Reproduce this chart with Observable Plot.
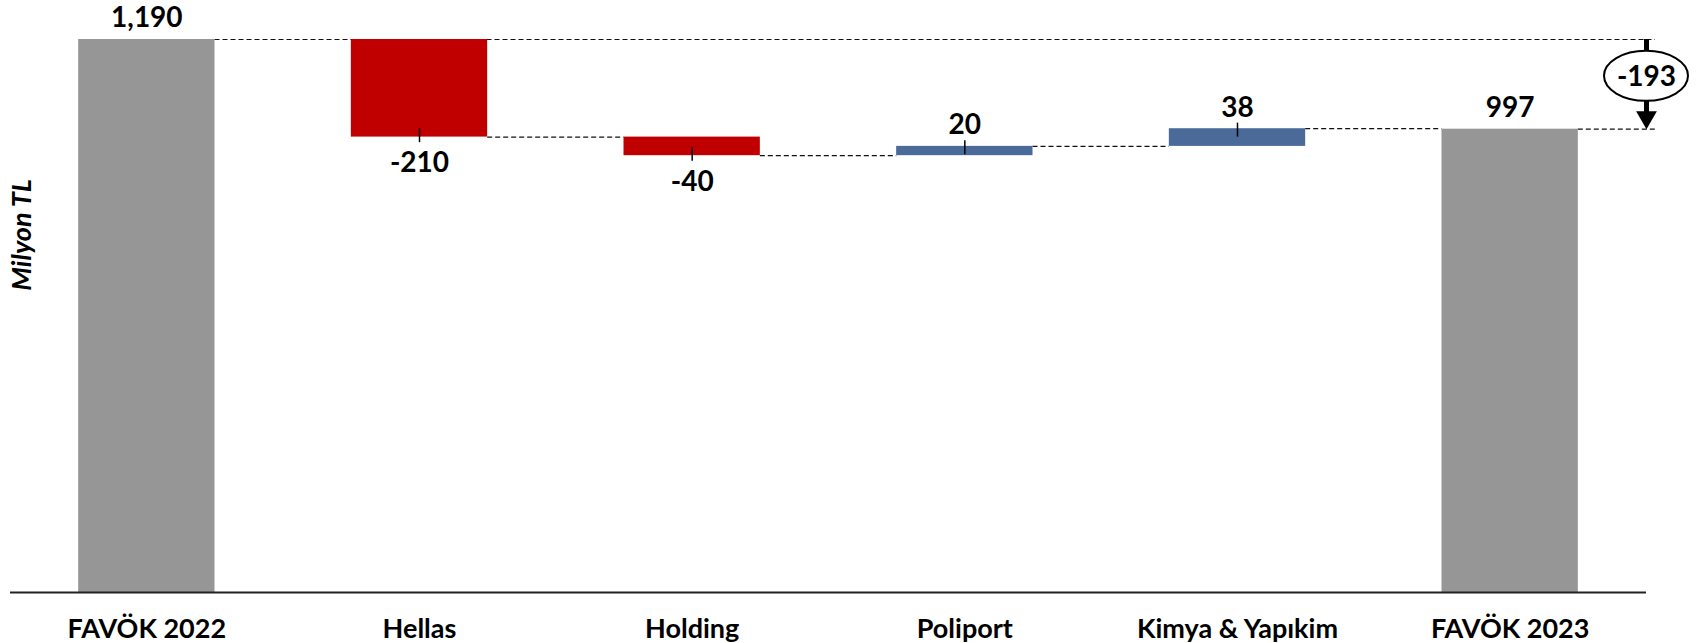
<!DOCTYPE html>
<html><head><meta charset="utf-8">
<script src="https://cdn.jsdelivr.net/npm/d3@7"></script>
<script src="https://cdn.jsdelivr.net/npm/@observablehq/plot@0.6"></script>
<style>body{margin:0;background:#fff}</style>
</head><body><div id="chart"></div>
<script>
const categories = ["FAVÖK 2022", "Hellas", "Holding", "Poliport", "Kimya & Yapıkim", "FAVÖK 2023"];
const values = [1190, -210, -40, 20, 38, 997];
const kinds = ["total", "delta", "delta", "delta", "delta", "total"];
const valueLabels = ["1,190", "-210", "-40", "20", "38", "997"];
const changeLabel = "-193";
const yAxisLabel = "Milyon TL";
const colors = {total: "#969696", down: "#C00000", up: "#4A6A9A"};

const half = 0.25;
let level = 0;
const bars = categories.map((c, i) => {
  const v = values[i];
  let y1, y2;
  if (kinds[i] === "total") { y1 = 0; y2 = v; }
  else { y1 = level; y2 = level + v; }
  level = y2;
  const kind = kinds[i] === "total" ? "total" : (v < 0 ? "down" : "up");
  return {i, c, v, y1, y2, kind, label: valueLabels[i]};
});
const n = bars.length;
const endX = n - 0.5;
const first = bars[0], last = bars[n - 1];

// connectors between consecutive bars
const connectors = [];
for (let i = 1; i < n - 1; i++) connectors.push({x1: i + half, x2: i + 1 - half, y: bars[i].y2});
// reference lines to the change annotation
const refLines = [
  {x1: first.i + half, x2: endX, y: first.y2},
  {x1: last.i + half, x2: endX, y: last.y2}
];
const deltas = bars.filter(d => d.kind !== "total");
const upLabels = bars.filter(d => d.kind !== "down");
const downLabels = bars.filter(d => d.kind === "down");
const mid = (first.y2 + last.y2) / 2;

const font = "Lato, 'Open Sans', sans-serif";

const chart = Plot.plot({
  width: 1696,
  height: 643,
  marginLeft: 10,
  marginRight: 50,
  marginTop: 39,
  marginBottom: 51,
  style: {fontFamily: font, fontWeight: "bold", color: "black", background: "white"},
  x: {domain: [-0.5, n - 0.5]},
  y: {domain: [0, first.y2], axis: null},
  marks: [
    Plot.ruleY(connectors, {x1: "x1", x2: "x2", y: "y", stroke: "#111", strokeWidth: 1.2, strokeDasharray: "5,3"}),
    Plot.ruleY(refLines, {x1: "x1", x2: "x2", y: "y", stroke: "#111", strokeWidth: 1.2, strokeDasharray: "5,3", insetRight: -9}),
    Plot.rectY(bars, {x1: d => d.i - half, x2: d => d.i + half, y1: "y1", y2: "y2", fill: d => colors[d.kind]}),
    Plot.ruleY([0], {stroke: "#222", strokeWidth: 2}),
    Plot.ruleX(deltas, {x: "i", y1: d => d.y2 + Math.sign(d.v) * 12, y2: d => d.y2 - Math.sign(d.v) * 18, stroke: "black", strokeWidth: 1.5}),
    Plot.text(upLabels, {x: "i", y: d => Math.max(d.y1, d.y2), text: "label", dy: -21, lineAnchor: "middle", fontSize: 28, fontWeight: "bold", fill: "black"}),
    Plot.text(downLabels, {x: "i", y: d => Math.min(d.y1, d.y2), text: "label", dy: 26, lineAnchor: "middle", fontSize: 28, fontWeight: "bold", fill: "black"}),
    Plot.axisX({ticks: d3.range(n), tickFormat: i => categories[i], tickSize: 0, tickPadding: 26, fontSize: 27, fontWeight: "bold", fill: "black", label: null}),
    Plot.text([yAxisLabel], {frameAnchor: "left", textAnchor: "middle", rotate: -90, dx: 12, dy: -81, fontSize: 27, fontWeight: "bold", fontStyle: "italic", fill: "black"}),
    // change annotation arrow
    Plot.ruleX([{x: endX, y1: first.y2, y2: last.y2 + 25}], {x: "x", y1: "y1", y2: "y2", stroke: "black", strokeWidth: 5}),
    Plot.dot([{x: endX, y: last.y2}], {x: "x", y: "y", symbol: "triangle", r: 7.7, rotate: 180, fill: "black", stroke: "none", dy: -12}),
    (index, scales) => {
      const g = d3.create("svg:g");
      g.append("ellipse")
        .attr("cx", scales.x(endX))
        .attr("cy", scales.y(mid) - 8)
        .attr("rx", 42).attr("ry", 25)
        .attr("fill", "white").attr("stroke", "black").attr("stroke-width", 2);
      return g.node();
    },
    Plot.text([changeLabel], {x: () => endX, y: () => mid, dy: -7, lineAnchor: "middle", fontSize: 28, fontWeight: "bold", fill: "black"})
  ]
});
document.getElementById("chart").appendChild(chart);
</script>
</body></html>
